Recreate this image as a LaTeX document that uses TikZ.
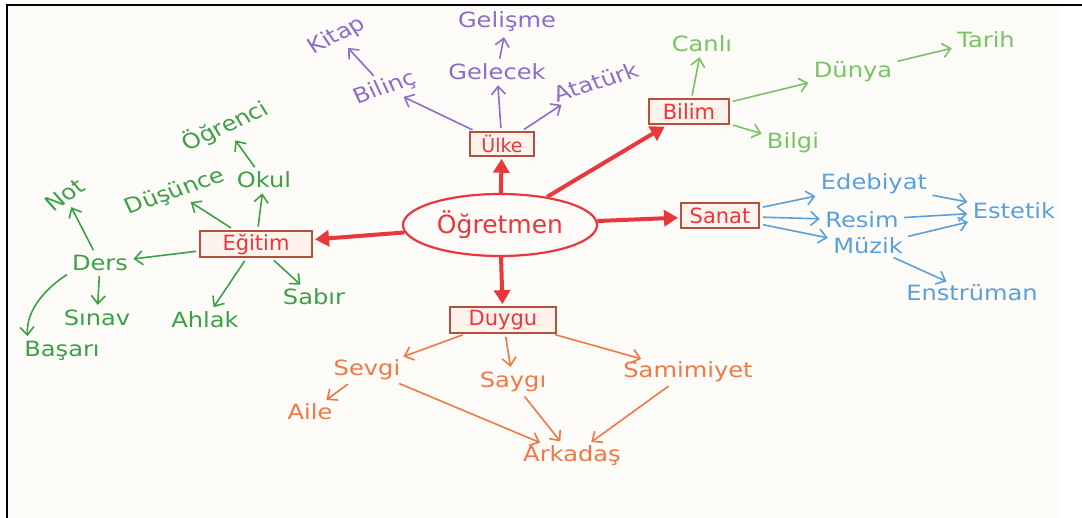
\documentclass[tikz,border=0pt]{standalone}
\usepackage{fontspec}
\setmainfont{DejaVu Sans}
\usetikzlibrary{arrows.meta,shapes.geometric}
\definecolor{purc}{RGB}{140,110,200}
\definecolor{limec}{RGB}{120,195,100}
\definecolor{greenc}{RGB}{60,160,70}
\definecolor{bluec}{RGB}{90,160,220}
\definecolor{orc}{RGB}{240,120,70}
\definecolor{redc}{RGB}{232,56,60}
\definecolor{boxc}{RGB}{180,80,60}
\definecolor{boxfill}{RGB}{253,242,236}
\definecolor{paper}{RGB}{252,251,247}
\tikzset{
  lab/.style={font=\fontsize{21}{23}\selectfont, inner sep=2pt, xscale=1.15},
  catbox/.style={draw=boxc, line width=2pt, fill=boxfill, text=redc,
    font=\fontsize{21}{23}\selectfont, inner sep=3pt, minimum height=25pt},
  conn/.style={-{Straight Barb[length=8pt,width=14pt]}, line width=1.6pt, shorten <=3pt, shorten >=3pt},
  mainarrow/.style={-{Triangle[length=14pt,width=16pt]}, line width=4pt, draw=redc, shorten >=2pt},
}
\begin{document}
\begin{tikzpicture}[x=1pt,y=-1pt]
\useasboundingbox (0,0) rectangle (1082,518);
\fill[paper] (7,5) rectangle (1060,518);
\draw[line width=2.8pt, black] (7,518) -- (7,5) -- (1082,5);

% centre
\node[draw=redc, ellipse, line width=2.2pt, minimum width=194pt, minimum height=62pt,
  text=redc, font=\fontsize{25}{27}\selectfont] (ogretmen) at (500,225) {Öğretmen};

% category boxes
\node[catbox, minimum width=64pt, minimum height=22pt, font=\fontsize{19}{21}\selectfont] (ulke) at (502,144) {Ülke};
\node[catbox, minimum width=80pt] (bilim) at (689,112) {Bilim};
\node[catbox, minimum width=78pt] (sanat) at (720,216) {Sanat};
\node[catbox, minimum width=112pt] (egitim) at (256,244) {Eğitim};
\node[catbox, minimum width=106pt] (duygu) at (503,320) {Duygu};

% main arrows
\draw[mainarrow] (ogretmen) -- (ulke);
\draw[mainarrow] (ogretmen) -- (bilim);
\draw[mainarrow] (ogretmen) -- (sanat);
\draw[mainarrow] (ogretmen) -- (egitim);
\draw[mainarrow] (ogretmen) -- (duygu);

% Ülke (purple)
\begin{scope}[every node/.style={lab, text=purc}, conn/.append style={draw=purc}]
\node[rotate=30] (kitap) at (337,36) {Kitap};
\node[rotate=22] (bilinc) at (385,88) {Bilinç};
\node (gelisme) at (507,22) {Gelişme};
\node (gelecek) at (497,72) {Gelecek};
\node[rotate=20] (ataturk) at (596,82) {Atatürk};
\draw[conn] (ulke) -- (bilinc);
\draw[conn] (ulke) -- (gelecek);
\draw[conn] (gelecek) -- (gelisme);
\draw[conn] (bilinc) -- (kitap);
\draw[conn] (ulke) -- (ataturk);
\end{scope}

% Bilim (light green)
\begin{scope}[every node/.style={lab, text=limec}, conn/.append style={draw=limec}]
\node (canli) at (702,44) {Canlı};
\node (dunya) at (853,72) {Dünya};
\node (tarih) at (986,40) {Tarih};
\node (bilgi) at (793,143) {Bilgi};
\draw[conn] (bilim) -- (canli);
\draw[conn] (bilim) -- (dunya);
\draw[conn] (dunya) -- (tarih);
\draw[conn] (bilim) -- (bilgi);
\end{scope}

% Sanat (blue)
\begin{scope}[every node/.style={lab, text=bluec}, conn/.append style={draw=bluec}]
\node (edebiyat) at (874,184) {Edebiyat};
\node (resim) at (862,220) {Resim};
\node (muzik) at (868,246) {Müzik};
\node (estetik) at (1014,211) {Estetik};
\node (enstruman) at (972,293) {Enstrüman};
\draw[conn] (sanat) -- (edebiyat);
\draw[conn] (sanat) -- (resim);
\draw[conn] (sanat) -- (muzik);
\draw[conn] (edebiyat) -- (estetik);
\draw[conn] (resim) -- (estetik);
\draw[conn] (muzik) -- (estetik);
\draw[conn] (muzik) -- (enstruman);
\end{scope}

% Eğitim (green)
\begin{scope}[every node/.style={lab, text=greenc}, conn/.append style={draw=greenc}]
\node[rotate=28] (ogrenci) at (225,126) {Öğrenci};
\node[rotate=22] (dusunce) at (175,192) {Düşünce};
\node (okul) at (264,180) {Okul};
\node[rotate=38] (not) at (65,195) {Not};
\node (ders) at (100,263) {Ders};
\node (sinav) at (97,318) {Sınav};
\node (ahlak) at (205,320) {Ahlak};
\node (sabir) at (314,297) {Sabır};
\node (basari) at (62,351) {Başarı};
\draw[conn] (egitim) -- (dusunce);
\draw[conn] (egitim) -- (okul);
\draw[conn] (okul) -- (ogrenci);
\draw[conn] (egitim) -- (ders);
\draw[conn] (ders) -- (not);
\draw[conn] (ders) -- (sinav);
\draw[conn] (egitim) -- (ahlak);
\draw[conn] (egitim) -- (sabir);
\draw[conn] (ders.south west) .. controls +(-22,14) and +(-2,-30) .. ([xshift=6pt]basari.north west);
\end{scope}

% Duygu (orange)
\begin{scope}[every node/.style={lab, text=orc}, conn/.append style={draw=orc}]
\node (sevgi) at (367,370) {Sevgi};
\node (saygi) at (513,382) {Saygı};
\node (samimiyet) at (688,372) {Samimiyet};
\node (aile) at (310,412) {Aile};
\node (arkadas) at (572,456) {Arkadaş};
\draw[conn] (duygu) -- (sevgi);
\draw[conn] (duygu) -- (saygi);
\draw[conn] (duygu) -- (samimiyet);
\draw[conn] (sevgi) -- (aile);
\draw[conn] (sevgi) -- (arkadas);
\draw[conn] (saygi) -- (arkadas);
\draw[conn] (samimiyet) -- (arkadas);
\end{scope}
\end{tikzpicture}
\end{document}
